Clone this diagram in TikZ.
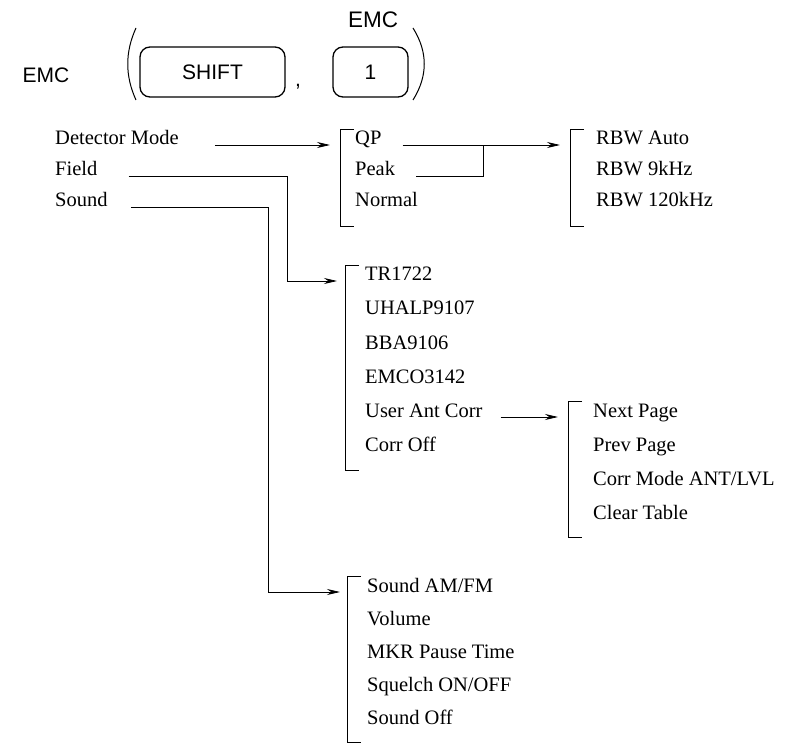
\documentclass[tikz,border=0pt]{standalone}
\usepackage{fontspec}
\setmainfont{Liberation Serif}
\setsansfont{Liberation Sans}
\usetikzlibrary{arrows.meta}

\tikzset{
  item/.style={anchor=base west, inner sep=0pt, font=\fontsize{20.5}{24}\selectfont},
  key/.style={draw, rounded corners=10pt, line width=1.3pt, minimum height=50pt, inner sep=0pt, font=\sffamily\fontsize{21}{24}\selectfont},
  keylabel/.style={inner sep=0pt, font=\sffamily\fontsize{21}{24}\selectfont},
  link/.style={line width=0.8pt},
  arr/.style={link, -{Stealth[length=13pt,width=6pt]}},
  brk/.style={line width=0.8pt},
  paren/.style={line width=1pt},
}
\newcommand{\menubracket}[3]{\draw[brk] (#1+14,#2) -- (#1,#2) -- (#1,#3) -- (#1+14,#3);}

\begin{document}
\begin{tikzpicture}[x=1pt,y=-1pt]
\useasboundingbox (0,0) rectangle (785,746);

% key sequence
\node[keylabel] (emc) at (46,75) {EMC};
\draw[paren] (136,28) .. controls (125,52) and (125,76) .. (136,100);
\node[key, minimum width=145pt] (shift) at (212.5,72) {SHIFT};
\node[keylabel, anchor=base] (comma) at (298,87) {,};
\node[key, minimum width=75pt] (one) at (370.5,72) {1};
\node[keylabel, font=\sffamily\fontsize{22.5}{26}\selectfont] (emctop) at (373,20) {EMC};
\draw[paren] (413,28) .. controls (428,52) and (428,76) .. (413,100);

% first level
\node[item] (dm) at (55,145) {Detector Mode};
\node[item] (field) at (55,176) {Field};
\node[item] (sound) at (55,207) {Sound};

% detector mode
\menubracket{340}{129}{226}
\node[item] (qp) at (355,145) {QP};
\node[item] (peak) at (355,176) {Peak};
\node[item] (normal) at (355,207) {Normal};

\menubracket{570}{129}{226}
\node[item] (rbwauto) at (596,145) {RBW Auto};
\node[item] (rbw9) at (596,176) {RBW 9kHz};
\node[item] (rbw120) at (596,207) {RBW 120kHz};

% field
\menubracket{345}{265}{470}
\node[item] (tr) at (365,281) {TR1722};
\node[item] (uhalp) at (365,315) {UHALP9107};
\node[item] (bba) at (365,349) {BBA9106};
\node[item] (emco) at (365,383) {EMCO3142};
\node[item] (user) at (365,417) {User Ant Corr};
\node[item] (corroff) at (365,451) {Corr Off};

\menubracket{568}{401}{537}
\node[item] (next) at (593,417) {Next Page};
\node[item] (prev) at (593,451) {Prev Page};
\node[item] (mode) at (593,485) {Corr Mode ANT/LVL};
\node[item] (clear) at (593,519) {Clear Table};

% sound
\menubracket{347}{576}{742}
\node[item] (sam) at (367,592) {Sound AM/FM};
\node[item] (vol) at (367,625) {Volume};
\node[item] (mkr) at (367,658) {MKR Pause Time};
\node[item] (squelch) at (367,691) {Squelch ON/OFF};
\node[item] (soff) at (367,724) {Sound Off};

% connectors
\coordinate (rbwjoin) at (483,145);
\coordinate (fieldx) at (287,176);
\coordinate (soundx) at (268,207);
\draw[arr] ([xshift=36pt]dm.base east) -- ([xshift=-25pt]qp.base west);
\draw[arr] ([xshift=21pt]qp.base east) -- ([xshift=-36pt]rbwauto.base west);
\draw[link] ([xshift=21pt]peak.base east) -| (rbwjoin);
\draw[arr] ([xshift=31pt]field.base east) -- (fieldx) |- ([xshift=-28pt]tr.base west);
\draw[arr] ([xshift=18pt]user.base east) -- ([xshift=-35pt]next.base west);
\draw[arr] ([xshift=23pt]sound.base east) -- (soundx) |- ([xshift=-27pt]sam.base west);
\end{tikzpicture}
\end{document}
